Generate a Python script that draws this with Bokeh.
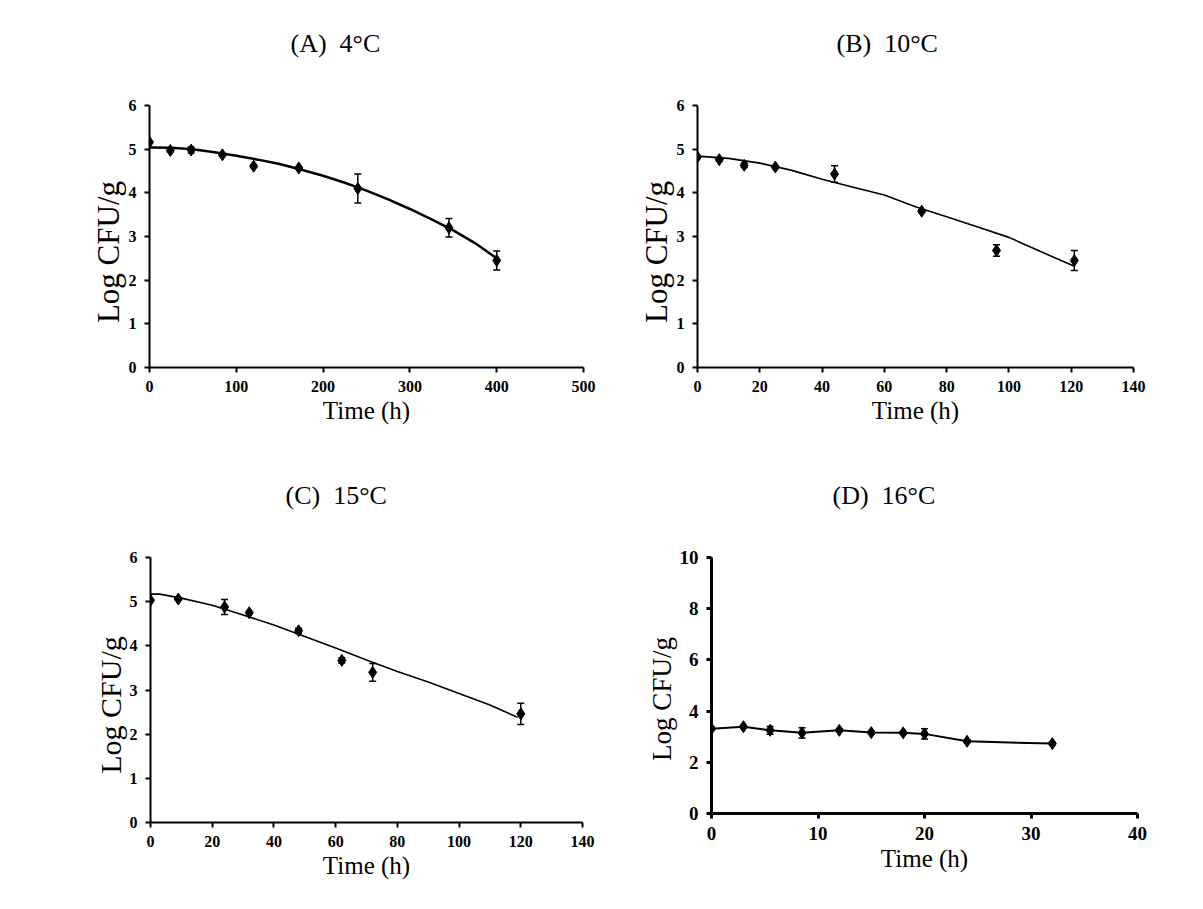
from bokeh.plotting import figure
from bokeh.layouts import column, row
from bokeh.models import Range1d, ColumnDataSource, Whisker, TeeHead, FixedTicker
from bokeh.embed import file_html
from bokeh.resources import INLINE

# ---------------- data ----------------
# (A) 4 C
a_time = [0, 24, 48, 84, 120, 172, 240, 345, 400]
a_log = [5.16, 4.97, 4.98, 4.87, 4.61, 4.57, 4.10, 3.20, 2.45]
a_err = [0.0, 0.03, 0.07, 0.03, 0.03, 0.03, 0.33, 0.21, 0.22]
a_fit_time = [0, 25, 50, 75, 100, 125, 150, 175, 200, 225, 250, 275, 300, 325, 350, 375, 400]
a_fit_log = [5.04, 5.03, 5.00, 4.93, 4.85, 4.76, 4.66, 4.53, 4.39, 4.23, 4.05, 3.85, 3.63, 3.39, 3.14, 2.85, 2.50]

# (B) 10 C
b_time = [0, 7, 15, 25, 44, 72, 96, 121]
b_log = [4.82, 4.76, 4.63, 4.59, 4.43, 3.58, 2.68, 2.45]
b_err = [0.0, 0.03, 0.05, 0.03, 0.19, 0.03, 0.13, 0.23]
b_fit_time = [0, 10, 20, 30, 40, 50, 60, 70, 80, 90, 100, 110, 121]
b_fit_log = [4.84, 4.79, 4.68, 4.52, 4.31, 4.13, 3.95, 3.68, 3.45, 3.22, 2.98, 2.66, 2.32]

# (C) 15 C
c_time = [0, 9, 24, 32, 48, 62, 72, 120]
c_log = [5.03, 5.06, 4.88, 4.75, 4.34, 3.67, 3.40, 2.46]
c_err = [0.0, 0.03, 0.17, 0.03, 0.06, 0.06, 0.20, 0.24]
c_fit_time = [0, 3, 10, 20, 30, 40, 50, 60, 70, 80, 90, 100, 110, 119]
c_fit_log = [5.17, 5.17, 5.08, 4.92, 4.70, 4.47, 4.21, 3.95, 3.68, 3.42, 3.18, 2.92, 2.66, 2.38]

# (D) 16 C
d_time = [0, 3, 5.5, 8.5, 12, 15, 18, 20, 24, 32]
d_log = [3.31, 3.39, 3.25, 3.15, 3.25, 3.16, 3.15, 3.11, 2.82, 2.73]
d_err = [0.05, 0.05, 0.15, 0.20, 0.05, 0.05, 0.05, 0.20, 0.05, 0.05]

titles = ["(A)\u00a0\u00a04°C", "(B)\u00a0\u00a010°C", "(C)\u00a0\u00a015°C", "(D)\u00a0\u00a016°C"]
x_label = "Time (h)"
y_label = "Log CFU/g"

SERIF = "Liberation Serif"
PAD = "\u00a0\u00a0\u00a0\u00a0"


def make_panel(title, t, y, err, fit_t, fit_y, xmax, xstep, ymax, ystep,
               geom, title_offset, fit_width, tick_size="16px", axis_w=2,
               ylab_size="31px"):
    left, fw, right, top, fh, bottom = geom
    p = figure(frame_width=fw, frame_height=fh,
               min_border_left=left, min_border_right=right,
               min_border_top=top, min_border_bottom=bottom,
               x_range=Range1d(0, xmax), y_range=Range1d(0, ymax),
               output_backend="svg", toolbar_location=None)
    p.title.text = title + "\n\u00a0"
    p.title.text_font = SERIF
    p.title.text_font_size = "26px"
    p.title.text_font_style = "normal"
    p.title.text_color = "black"
    p.title.align = "left"
    p.title.offset = title_offset
    p.title.standoff = 37
    p.outline_line_color = None
    p.xgrid.visible = False
    p.ygrid.visible = False
    p.xaxis.ticker = FixedTicker(ticks=list(range(0, xmax + 1, xstep)))
    p.yaxis.ticker = FixedTicker(ticks=list(range(0, ymax + 1, ystep)))
    for ax in (p.xaxis[0], p.yaxis[0]):
        ax.axis_line_width = axis_w
        ax.axis_line_color = "black"
        ax.major_tick_line_width = axis_w
        ax.major_tick_line_color = "black"
        ax.major_tick_out = 5
        ax.major_tick_in = 0
        ax.minor_tick_line_color = None
        ax.major_label_standoff = 8
        ax.major_label_text_font = SERIF
        ax.major_label_text_font_style = "bold"
        ax.major_label_text_font_size = tick_size
        ax.major_label_text_color = "black"
        ax.axis_label_text_font = SERIF
        ax.axis_label_text_font_style = "normal"
        ax.axis_label_text_color = "black"
    p.xaxis.axis_label = x_label
    p.yaxis.axis_label = y_label + PAD
    p.xaxis.axis_label_text_font_size = "25px"
    p.yaxis.axis_label_text_font_size = ylab_size
    p.xaxis.axis_label_standoff = 2
    p.yaxis.axis_label_standoff = 0

    src = ColumnDataSource(dict(x=t, y=y,
                                upper=[v + e for v, e in zip(y, err)],
                                lower=[v - e for v, e in zip(y, err)]))
    p.line(fit_t, fit_y, line_color="black", line_width=fit_width)
    w = Whisker(source=src, base="x", upper="upper", lower="lower",
                line_color="black", line_width=1.5,
                upper_head=TeeHead(size=7, line_width=1.5, line_color="black"),
                lower_head=TeeHead(size=7, line_width=1.5, line_color="black"))
    p.add_layout(w)
    p.scatter("x", "y", source=src, marker="diamond", size=12,
              fill_color="black", line_color="black")
    return p


pA = make_panel(titles[0], a_time, a_log, a_err, a_fit_time, a_fit_log,
                500, 100, 6, 1, (149, 434, 25, 105, 262, 90), 141, 2.5)
pB = make_panel(titles[1], b_time, b_log, b_err, b_fit_time, b_fit_log,
                140, 20, 6, 1, (89, 436, 30, 105, 262, 90), 139, 1.6)
pC = make_panel(titles[2], c_time, c_log, c_err, c_fit_time, c_fit_log,
                140, 20, 6, 1, (150, 432, 26, 100, 265, 75), 135, 1.6,
                ylab_size="30px")
pD = make_panel(titles[3], d_time, d_log, d_err, d_time, d_log,
                40, 10, 10, 2, (103, 426, 26, 100, 256, 75), 121, 2.0, "19px", 3,
                ylab_size="27px")

layout = column(row(pA, pB), row(pC, pD))
open("out.html", "w").write(file_html(layout, INLINE))
